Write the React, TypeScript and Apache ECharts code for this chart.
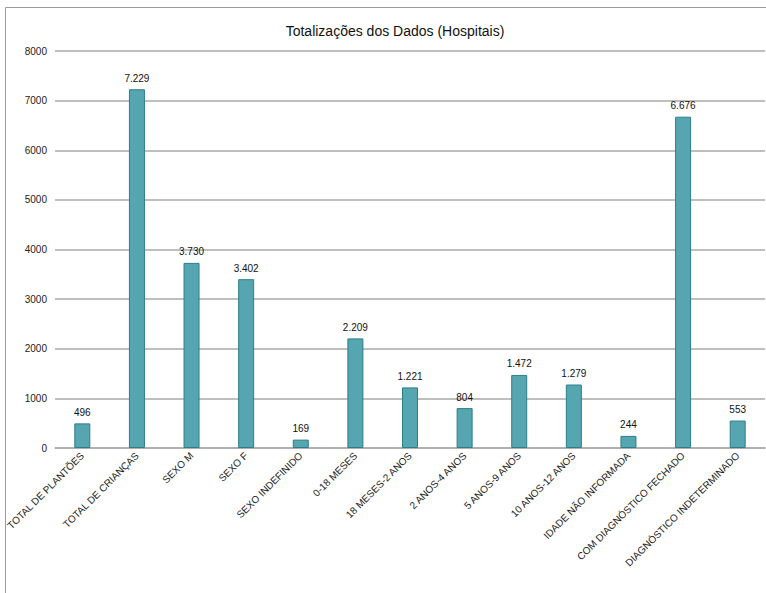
import React, { useEffect, useRef } from "react";
import * as echarts from "echarts";

const categories = [
  "TOTAL DE PLANTÕES",
  "TOTAL DE CRIANÇAS",
  "SEXO M",
  "SEXO F",
  "SEXO INDEFINIDO",
  "0-18 MESES",
  "18 MESES-2 ANOS",
  "2 ANOS-4 ANOS",
  "5 ANOS-9 ANOS",
  "10 ANOS-12 ANOS",
  "IDADE NÃO INFORMADA",
  "COM DIAGNÓSTICO FECHADO",
  "DIAGNÓSTICO INDETERMINADO",
];
const values = [496, 7229, 3730, 3402, 169, 2209, 1221, 804, 1472, 1279, 244, 6676, 553];
const title = "Totalizações dos Dados (Hospitais)";

const fmt = (v: number) => String(v).replace(/\B(?=(\d{3})+(?!\d))/g, ".");

export default function App() {
  const ref = useRef<HTMLDivElement>(null);
  useEffect(() => {
    const chart = echarts.init(ref.current!, null, { renderer: "svg" });
    const font = "'Liberation Sans Narrow', 'Liberation Sans', Arial, sans-serif";
    chart.setOption({
      animation: false,
      backgroundColor: "#ffffff",
      title: {
        text: title,
        left: 390,
        textAlign: "center",
        top: 19,
        textStyle: { fontFamily: font, fontSize: 14, fontWeight: "normal", color: "#111" },
      },
      graphic: [
        {
          type: "rect",
          shape: { x: 5.5, y: 7.5, width: 820, height: 700 },
          style: { fill: "none", stroke: "#9a9a9a", lineWidth: 1 },
          silent: true,
        },
      ],
      grid: { left: 55, right: 1, top: 51, bottom: 145, containLabel: false },
      xAxis: {
        type: "category",
        data: categories,
        axisLine: { show: true, lineStyle: { color: "#aaaaaa", width: 1.5 } },
        axisTick: { show: false },
        axisLabel: {
          rotate: 45,
          interval: 0,
          margin: 6,
          fontFamily: font,
          fontSize: 10,
          color: "#222",
        },
      },
      yAxis: {
        type: "value",
        min: 0,
        max: 8000,
        interval: 1000,
        axisLine: { show: false },
        axisTick: { show: false },
        axisLabel: {
          fontFamily: font,
          fontSize: 10,
          color: "#222",
          margin: 8,
          formatter: (v: number) => String(v),
        },
        splitLine: { lineStyle: { color: "#aaaaaa", width: 1.5 } },
      },
      series: [
        {
          type: "bar",
          data: values,
          barWidth: 16,
          itemStyle: { color: "#55a6b0", borderColor: "#2e7e88", borderWidth: 1 },
          label: {
            show: true,
            position: "top",
            distance: 6,
            fontFamily: font,
            fontSize: 10,
            color: "#111",
            formatter: (p: any) => fmt(p.value),
          },
        },
      ],
    });
    return () => chart.dispose();
  }, []);
  return (
    <div
      ref={ref}
      style={{ position: "absolute", left: 0, top: 0, width: 766, height: 593 }}
    />
  );
}
